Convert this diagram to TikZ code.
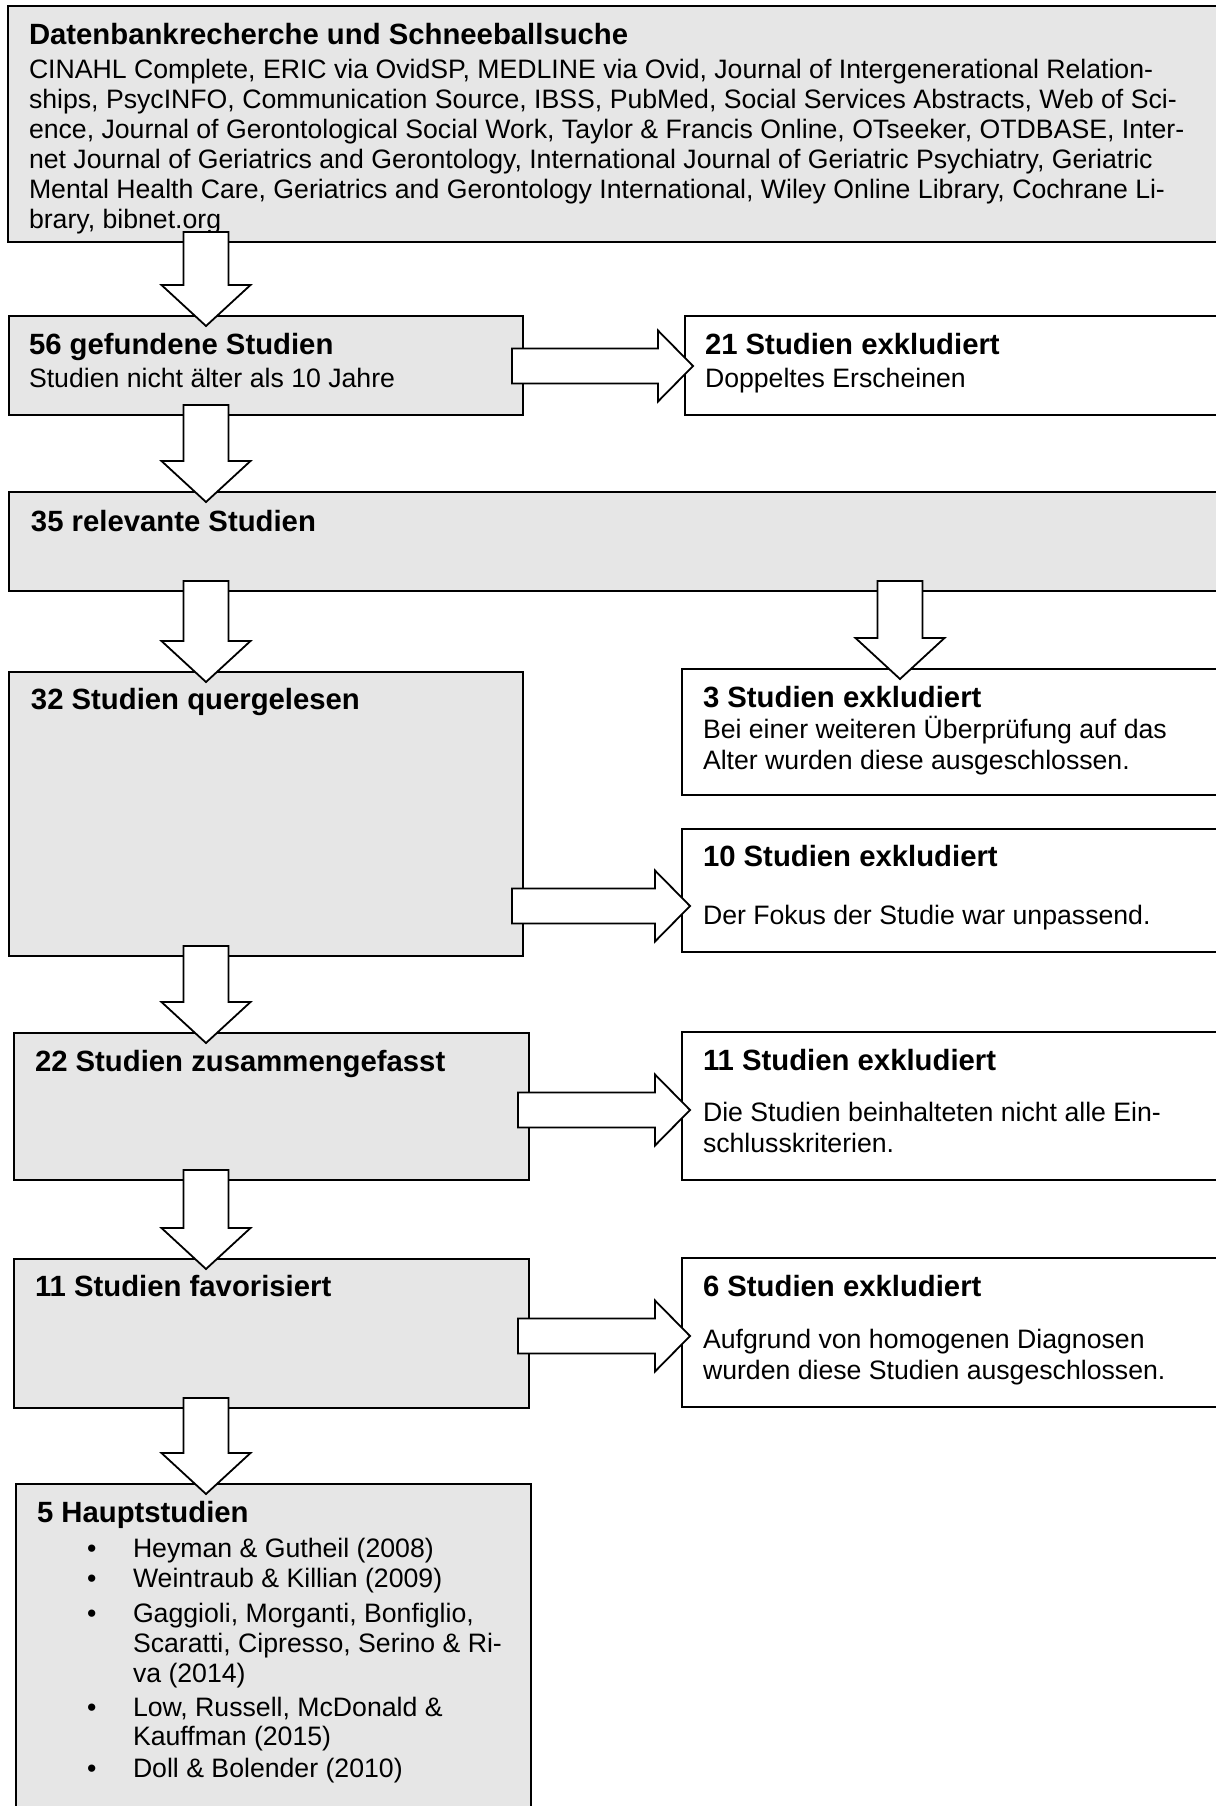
\documentclass[tikz,border=0pt]{standalone}
\usepackage{fontspec}
\setmainfont{Liberation Sans}
\usetikzlibrary{calc}
\definecolor{boxgray}{RGB}{230,230,230}
\tikzset{
  box/.style={draw=black, line width=0.9pt, inner sep=0pt, outer sep=0pt, anchor=north west},
  graybox/.style={box, fill=boxgray},
  whitebox/.style={box, fill=white},
  blk/.style={draw=black, line width=0.9pt, fill=white, line join=miter},
  txt/.style={anchor=base west, inner sep=0pt, outer sep=0pt, font=\fontsize{13.33pt}{15pt}\selectfont},
  ttl/.style={anchor=base west, inner sep=0pt, outer sep=0pt, font=\fontsize{14.65pt}{15pt}\selectfont\bfseries},
}
\newcommand\blkdown[3]{%
  \draw[blk] ($(#1|-#2.south)+(-22.5,-10)$) -- ($(#1|-#2.south)+(22.5,-10)$)
    -- ($(#1|-#3.north)+(22.5,-31)$) -- ($(#1|-#3.north)+(44.5,-31)$)
    -- ($(#1|-#3.north)+(0,10)$) -- ($(#1|-#3.north)+(-44.5,-31)$)
    -- ($(#1|-#3.north)+(-22.5,-31)$) -- cycle;}
\newcommand\blkright[3]{%
  \draw[blk] ($(#2.east|-#1)+(-11,-17.5)$) -- ($(#3.west|-#1)+(-27,-17.5)$)
    -- ($(#3.west|-#1)+(-27,-35.5)$) -- ($(#3.west|-#1)+(8,0)$)
    -- ($(#3.west|-#1)+(-27,35.5)$) -- ($(#3.west|-#1)+(-27,17.5)$)
    -- ($(#2.east|-#1)+(-11,17.5)$) -- cycle;}
\begin{document}
\begin{tikzpicture}[x=0.5pt,y=-0.5pt]
\useasboundingbox[fill=white] (0,0) rectangle (1216,1806);
% boxes (right-hand and bottom edges run off the page, as in the reference)
\node[graybox, minimum width=607pt, minimum height=118pt] (top) at (8,6) {};
\node[graybox, minimum width=257pt, minimum height=49.5pt] (b56) at (9,316) {};
\node[whitebox, minimum width=268.5pt, minimum height=49.5pt] (b21) at (685,316) {};
\node[graybox, minimum width=606.5pt, minimum height=49.5pt] (b35) at (9,492) {};
\node[graybox, minimum width=257pt, minimum height=142pt] (b32) at (9,672) {};
\node[whitebox, minimum width=270pt, minimum height=63pt] (b3) at (682,669) {};
\node[whitebox, minimum width=270pt, minimum height=61.5pt] (b10) at (682,829) {};
\node[graybox, minimum width=257.5pt, minimum height=73.5pt] (b22) at (14,1033) {};
\node[whitebox, minimum width=270pt, minimum height=74pt] (b11x) at (682,1032) {};
\node[graybox, minimum width=257.5pt, minimum height=74.5pt] (b11f) at (14,1259) {};
\node[whitebox, minimum width=270pt, minimum height=74.5pt] (b6) at (682,1258) {};
\node[graybox, minimum width=257.5pt, minimum height=164pt] (b5) at (16,1484) {};
% texts
\node[ttl] (t0) at (29,44) {Datenbankrecherche und Schneeballsuche};
\node[txt] (t0a) at (29,78) {CINAHL Complete, ERIC via OvidSP, MEDLINE via Ovid, Journal of Intergenerational Relation-};
\node[txt] (t0b) at (29,108) {ships, PsycINFO, Communication Source, IBSS, PubMed, Social Services Abstracts, Web of Sci-};
\node[txt] (t0c) at (29,138) {ence, Journal of Gerontological Social Work, Taylor \& Francis Online, OTseeker, OTDBASE, Inter-};
\node[txt] (t0d) at (29,168) {net Journal of Geriatrics and Gerontology, International Journal of Geriatric Psychiatry, Geriatric};
\node[txt] (t0e) at (29,198) {Mental Health Care, Geriatrics and Gerontology International, Wiley Online Library, Cochrane Li-};
\node[txt] (t0f) at (29,228) {brary, bibnet.org};
\node[ttl] (t56) at (29,354) {56 gefundene Studien};
\node[txt] (t56a) at (29,387) {Studien nicht älter als 10 Jahre};
\node[ttl] (t21) at (705,354) {21 Studien exkludiert};
\node[txt] (t21a) at (705,387) {Doppeltes Erscheinen};
\node[ttl] (t35) at (31,531) {35 relevante Studien};
\node[ttl] (t32) at (31,709) {32 Studien quergelesen};
\node[ttl] (t3) at (703,707) {3 Studien exkludiert};
\node[txt] (t3a) at (703,738) {Bei einer weiteren Überprüfung auf das};
\node[txt] (t3b) at (703,769) {Alter wurden diese ausgeschlossen.};
\node[ttl] (t10) at (703,866) {10 Studien exkludiert};
\node[txt] (t10a) at (703,924) {Der Fokus der Studie war unpassend.};
\node[ttl] (t22) at (35,1071) {22 Studien zusammengefasst};
\node[ttl] (t11x) at (703,1070) {11 Studien exkludiert};
\node[txt] (t11xa) at (703,1121) {Die Studien beinhalteten nicht alle Ein-};
\node[txt] (t11xb) at (703,1152) {schlusskriterien.};
\node[ttl] (t11f) at (35,1296) {11 Studien favorisiert};
\node[ttl] (t6) at (703,1296) {6 Studien exkludiert};
\node[txt] (t6a) at (703,1348) {Aufgrund von homogenen Diagnosen};
\node[txt] (t6b) at (703,1379) {wurden diese Studien ausgeschlossen.};
\node[ttl] (t5) at (37,1522) {5 Hauptstudien};
\node[txt] (u1) at (87,1557) {•};
\node[txt] (u2) at (87,1587) {•};
\node[txt] (u3) at (87,1622) {•};
\node[txt] (u4) at (87,1716) {•};
\node[txt] (u5) at (87,1777) {•};
\node[txt] (i1) at (133,1557) {Heyman \& Gutheil (2008)};
\node[txt] (i2) at (133,1587) {Weintraub \& Killian (2009)};
\node[txt] (i3a) at (133,1622) {Gaggioli, Morganti, Bonfiglio,};
\node[txt] (i3b) at (133,1652) {Scaratti, Cipresso, Serino \& Ri-};
\node[txt] (i3c) at (133,1682) {va (2014)};
\node[txt] (i4a) at (133,1716) {Low, Russell, McDonald \&};
\node[txt] (i4b) at (133,1745) {Kauffman (2015)};
\node[txt] (i5) at (133,1777) {Doll \& Bolender (2010)};
% arrow guide coordinates
\coordinate (cl) at (206,0);
\coordinate (cr) at (900,0);
\coordinate (h1) at (0,366);
\coordinate (h2) at (0,906);
\coordinate (h3) at (0,1110);
\coordinate (h4) at (0,1336);
% arrows
\blkdown{cl}{top}{b56}
\blkdown{cl}{b56}{b35}
\blkdown{cl}{b35}{b32}
\blkdown{cr}{b35}{b3}
\blkdown{cl}{b32}{b22}
\blkdown{cl}{b22}{b11f}
\blkdown{cl}{b11f}{b5}
\blkright{h1}{b56}{b21}
\blkright{h2}{b32}{b10}
\blkright{h3}{b22}{b11x}
\blkright{h4}{b11f}{b6}
\end{tikzpicture}
\end{document}
